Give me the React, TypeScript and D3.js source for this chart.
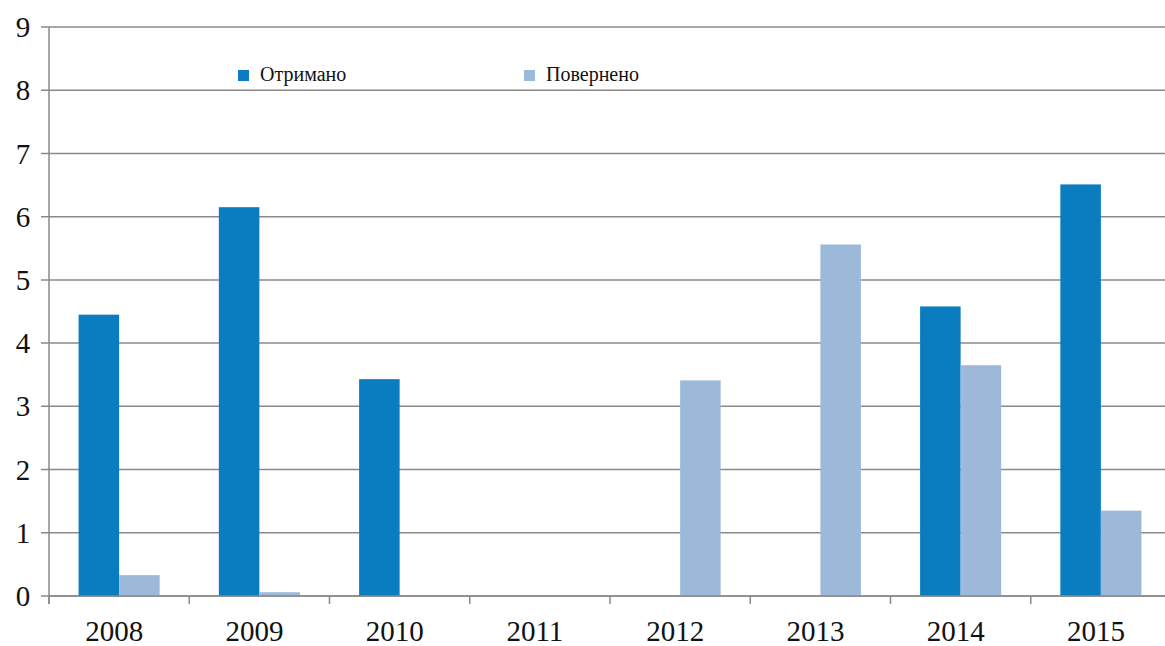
import React from "react";
import * as d3 from "d3";

const years = ["2008", "2009", "2010", "2011", "2012", "2013", "2014", "2015"];
const seriesNames = ["Отримано", "Повернено"];
const received = [4.45, 6.15, 3.43, 0, 0, 0, 4.58, 6.51];
const returned = [0.33, 0.06, 0, 0, 3.41, 5.56, 3.65, 1.35];
const yTicks = [0, 1, 2, 3, 4, 5, 6, 7, 8, 9];
const colors = ["#0a7dc0", "#9cb9d9"];

const W = 1165;
const H = 646;
const left = 49;
const right = 1171;
const top = 27;
const bottom = 596;

export default function App() {
  const x0 = d3.scaleBand<string>().domain(years).range([left, right]).padding(0);
  const x1 = d3
    .scaleBand<string>()
    .domain(seriesNames)
    .range([0, x0.bandwidth()])
    .paddingInner(0)
    .paddingOuter(0.73);
  const y = d3.scaleLinear().domain([0, 9]).range([bottom, top]);
  const values = [received, returned];
  const font = "Liberation Serif";
  const boundaries = years.map((yr) => x0(yr) as number).concat([right]);

  return (
    <svg
      width={W}
      height={H}
      style={{ position: "absolute", left: 0, top: 0, background: "#fff" }}
    >
      <rect x={0} y={0} width={W} height={H} fill="#fff" />
      {yTicks.map((t) => (
        <g key={t}>
          <line x1={left - 8} x2={right} y1={y(t)} y2={y(t)} stroke="#8a8a8a" strokeWidth={1.5} />
          <text
            x={23}
            y={y(t)}
            dy="0.35em"
            textAnchor="middle"
            fontFamily={font}
            fontSize={29}
            fill="#111"
          >
            {t}
          </text>
        </g>
      ))}
      <line x1={left} x2={left} y1={top} y2={bottom + 8} stroke="#8a8a8a" strokeWidth={1.5} />
      {boundaries.map((b, i) => (
        <line key={i} x1={b} x2={b} y1={bottom} y2={bottom + 8} stroke="#8a8a8a" strokeWidth={1.5} />
      ))}
      {seriesNames.map((s, si) =>
        years.map((yr, i) => {
          const v = values[si][i];
          if (v <= 0) return null;
          return (
            <rect
              key={s + yr}
              x={(x0(yr) as number) + (x1(s) as number)}
              y={y(v)}
              width={x1.bandwidth()}
              height={y(0) - y(v)}
              fill={colors[si]}
            />
          );
        })
      )}
      <line x1={left} x2={right} y1={bottom} y2={bottom} stroke="#8a8a8a" strokeWidth={1.5} />
      {years.map((yr) => (
        <text
          key={yr}
          x={(x0(yr) as number) + x0.bandwidth() / 2 - 5}
          y={641}
          textAnchor="middle"
          fontFamily={font}
          fontSize={29}
          fill="#111"
        >
          {yr}
        </text>
      ))}
      {seriesNames.map((s, i) => {
        const lx = i === 0 ? 238 : 524;
        return (
          <g key={s}>
            <rect x={lx} y={70} width={11} height={11} fill={colors[i]} />
            <text x={lx + 22} y={81} fontFamily={font} fontSize={20} fill="#111">
              {s}
            </text>
          </g>
        );
      })}
    </svg>
  );
}
